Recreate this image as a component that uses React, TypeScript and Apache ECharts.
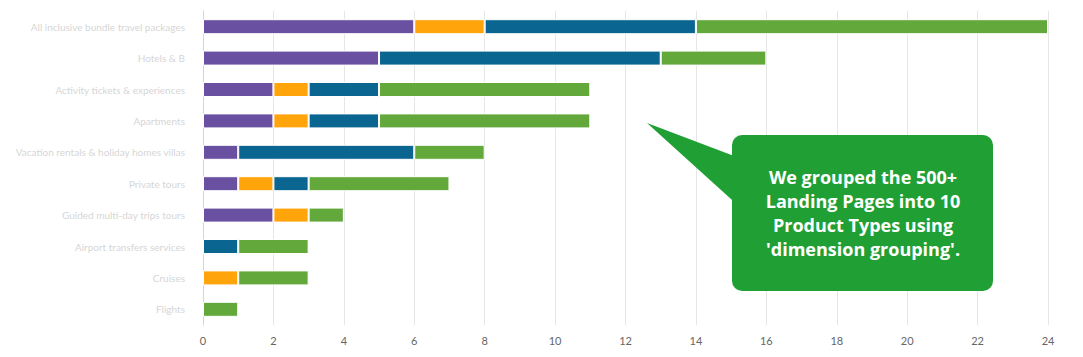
import React, { useEffect, useRef } from "react";
import * as echarts from "echarts";

const categories = [
  "All inclusive bundle travel packages",
  "Hotels & B",
  "Activity tickets & experiences",
  "Apartments",
  "Vacation rentals & holiday homes villas",
  "Private tours",
  "Guided multi-day trips tours",
  "Airport transfers services",
  "Cruises",
  "Flights",
];
const purple = [6, 5, 2, 2, 1, 1, 2, 0, 0, 0];
const orange = [2, 0, 1, 1, 0, 1, 1, 0, 1, 0];
const blue = [6, 8, 2, 2, 5, 1, 0, 1, 0, 0];
const green = [10, 3, 6, 6, 2, 4, 1, 2, 2, 1];
const xTicks = [0, 2, 4, 6, 8, 10, 12, 14, 16, 18, 20, 22, 24];
const calloutLines = [
  "We grouped the 500+",
  "Landing Pages into 10",
  "Product Types using",
  "'dimension grouping'.",
];

export default function App() {
  const ref = useRef<HTMLDivElement>(null);
  useEffect(() => {
    if (!ref.current) return;
    const chart = echarts.init(ref.current, null, { renderer: "svg" });
    const mk = (name: string, data: number[], color: string) => ({
      name,
      type: "bar",
      stack: "total",
      barWidth: 15,
      data: data.map((v) => (v === 0 ? null : v)),
      itemStyle: { color, borderColor: "#ffffff", borderWidth: 1 },
    });
    chart.setOption({
      animation: false,
      grid: {
        left: 195,
        right: 27,
        top: 3,
        bottom: 24,
        containLabel: false,
        outerBoundsMode: "none",
      },
      xAxis: {
        type: "value",
        min: 0,
        max: 24,
        interval: 2,
        axisLine: { show: false },
        axisTick: { show: false },
        splitLine: { lineStyle: { color: "#e6e6e6", width: 1 } },
        axisLabel: {
          color: "#666666",
          fontSize: 11,
          fontFamily: "Lato",
          margin: 10,
          formatter: (v: number) => (xTicks.includes(v) ? String(v) : ""),
        },
      },
      yAxis: {
        type: "category",
        inverse: true,
        data: categories,
        axisLine: { lineStyle: { color: "#ccd6eb" } },
        axisTick: { length: 10, lineStyle: { color: "#ccd6eb" } },
        axisLabel: {
          color: "#d6d6d6",
          fontSize: 10,
          fontFamily: "Lato",
          margin: 18,
        },
      },
      series: [
        mk("Purple", purple, "#6a50a0"),
        mk("Orange", orange, "#ffa40a"),
        mk("Blue", blue, "#0b6591"),
        mk("Green", green, "#62a83b"),
      ],
      graphic: [
        {
          type: "group",
          z: 100,
          children: [
            {
              type: "polygon",
              z: 100,
              shape: {
                points: [
                  [639, 115],
                  [734, 151],
                  [734, 201],
                ],
              },
              style: { fill: "#20a034" },
            },
            {
              type: "rect",
              z: 100,
              shape: { x: 724, y: 127, width: 261, height: 156, r: 10 },
              style: { fill: "#20a034" },
            },
            {
              type: "text",
              z: 101,
              x: 855,
              y: 205,
              style: {
                text: calloutLines.join("\n"),
                fill: "#ffffff",
                font: "bold 18px 'Open Sans'",
                lineHeight: 24,
                align: "center",
                verticalAlign: "middle",
              },
            },
          ],
        },
      ],
    });
    return () => chart.dispose();
  }, []);
  return <div ref={ref} style={{ width: 1067, height: 341 }} />;
}
